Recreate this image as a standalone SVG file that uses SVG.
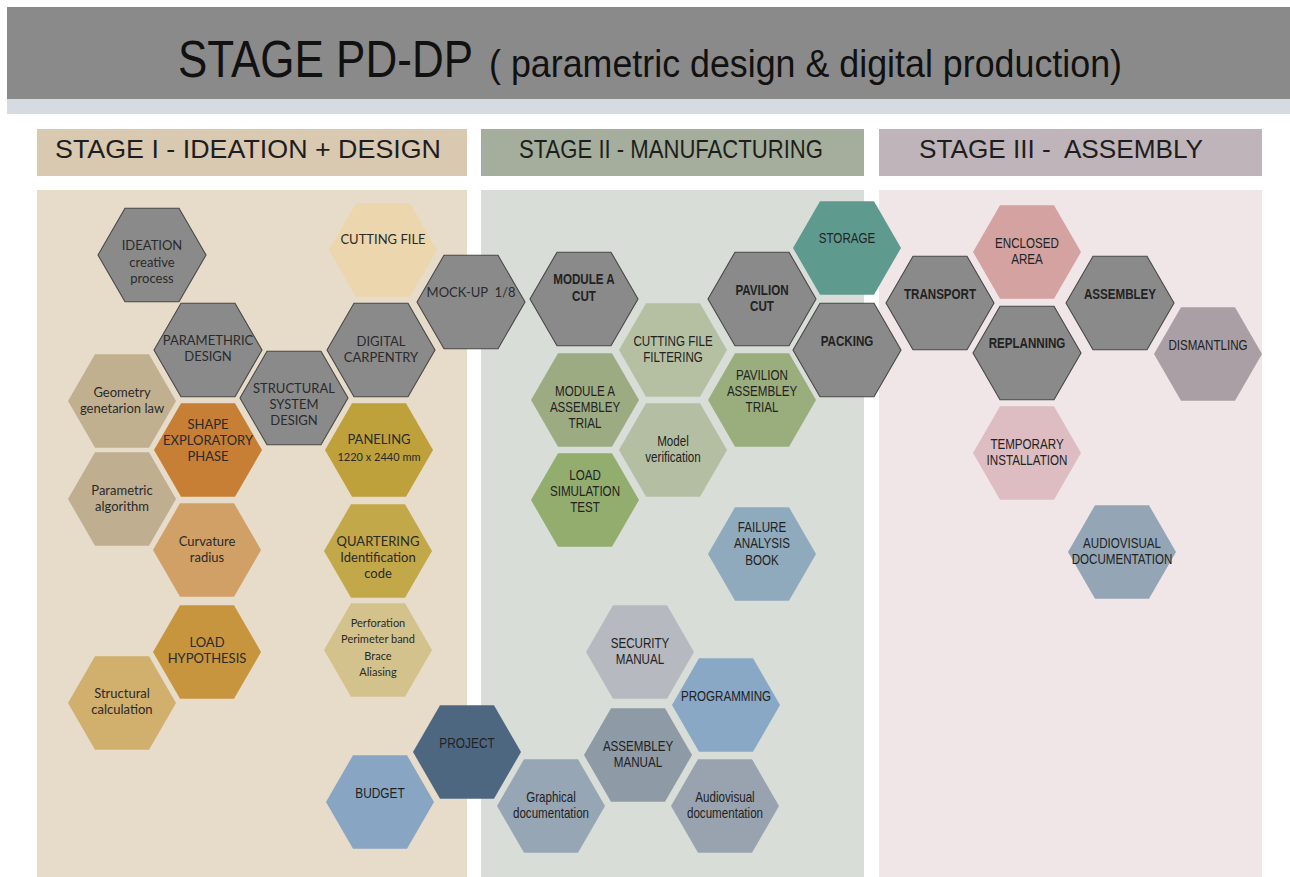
<svg xmlns="http://www.w3.org/2000/svg" xmlns:xlink="http://www.w3.org/1999/xlink" width="1290" height="877" viewBox="0 0 1290 877">
  <style>
    .round { font-family: Lato, "Open Sans", sans-serif; font-size: 13px; fill: #2a2a2a; text-anchor: middle; }
    .round.sm { font-size: 11px; }
    .narrow { font-family: "Liberation Sans", Arial, sans-serif; font-size: 14.5px; fill: #222; text-anchor: middle; }
    .narrow.b { font-weight: bold; }
    .head { font-family: "Liberation Sans", Arial, sans-serif; font-size: 25px; fill: #1e1e1e; white-space: pre; }
    .title { font-family: "Liberation Sans", Arial, sans-serif; fill: #111; }
    .pre { white-space: pre; }
    .grey { fill: #8a8a8a; stroke: #484848; stroke-width: 1.1; }
  </style>
  <defs>
    <!-- flat-topped hexagon, circumradius 54 -->
    <polygon id="hex" points="-54,0 -27,-46.8 27,-46.8 54,0 27,46.8 -27,46.8"/>
  </defs>

  <rect width="1290" height="877" fill="#ffffff"/>

  <!-- title band -->
  <rect x="7" y="7" width="1283" height="92" fill="#8a8a8a"/>
  <rect x="7" y="99" width="1283" height="15" fill="#d5dbe1"/>
  <text class="title" x="178" y="77" font-size="52" textLength="295" lengthAdjust="spacingAndGlyphs">STAGE PD-DP</text>
  <text class="title" x="489" y="77" font-size="39" textLength="633" lengthAdjust="spacingAndGlyphs">( parametric design &amp; digital production)</text>

  <!-- stage headers -->
  <rect x="37" y="129" width="430" height="47" fill="#d9c9b1"/>
  <rect x="481" y="129" width="383" height="47" fill="#a5ae9c"/>
  <rect x="879" y="129" width="383" height="47" fill="#beb4b9"/>
  <text class="head" x="55" y="158" textLength="386" lengthAdjust="spacingAndGlyphs">STAGE I - IDEATION + DESIGN</text>
  <text class="head" x="519" y="158" textLength="304" lengthAdjust="spacingAndGlyphs">STAGE II - MANUFACTURING</text>
  <text class="head" x="919" y="158" textLength="284" lengthAdjust="spacingAndGlyphs">STAGE III -  ASSEMBLY</text>

  <!-- stage panels -->
  <rect x="37" y="190" width="430" height="687" fill="#e6dcc9"/>
  <rect x="481" y="190" width="383" height="687" fill="#d8ddd7"/>
  <rect x="879" y="190" width="383" height="687" fill="#f0e6e7"/>

  <!-- connectors: none drawn, the hexagons tile against each other -->
  <g id="connectors"/>

  <!-- STAGE I -->
  <g id="ideation" transform="translate(152,255)">
    <use xlink:href="#hex" class="grey"/>
    <text class="round"><tspan x="0" y="-5">IDEATION</tspan><tspan x="0" y="12">creative</tspan><tspan x="0" y="28">process</tspan></text>
  </g>
  <g id="cutting-file" transform="translate(383,250)">
    <use xlink:href="#hex" fill="#ecd6ad"/>
    <text class="round" y="-6">CUTTING FILE</text>
  </g>
  <g id="parametric-design" transform="translate(208,350)">
    <use xlink:href="#hex" class="grey"/>
    <text class="round"><tspan x="0" y="-5">PARAMETHRIC</tspan><tspan x="0" y="11">DESIGN</tspan></text>
  </g>
  <g id="digital-carpentry" transform="translate(381,350)">
    <use xlink:href="#hex" class="grey"/>
    <text class="round"><tspan x="0" y="-4">DIGITAL</tspan><tspan x="0" y="12">CARPENTRY</tspan></text>
  </g>
  <g id="structural-system-design" transform="translate(294,398)">
    <use xlink:href="#hex" class="grey"/>
    <text class="round"><tspan x="0" y="-5">STRUCTURAL</tspan><tspan x="0" y="11">SYSTEM</tspan><tspan x="0" y="27">DESIGN</tspan></text>
  </g>
  <g id="geometry-law" transform="translate(122,401)">
    <use xlink:href="#hex" fill="#c1b08f"/>
    <text class="round"><tspan x="0" y="-4">Geometry</tspan><tspan x="0" y="12">genetarion law</tspan></text>
  </g>
  <g id="shape-exploratory" transform="translate(208,450)">
    <use xlink:href="#hex" fill="#c77f35"/>
    <text class="round"><tspan x="0" y="-21">SHAPE</tspan><tspan x="0" y="-5">EXPLORATORY</tspan><tspan x="0" y="11">PHASE</tspan></text>
  </g>
  <g id="paneling" transform="translate(379,450)">
    <use xlink:href="#hex" fill="#bea13b"/>
    <text class="round" y="-6">PANELING</text>
    <text class="round sm" y="11">1220 x 2440 mm</text>
  </g>
  <g id="parametric-algorithm" transform="translate(122,499)">
    <use xlink:href="#hex" fill="#bfae8f"/>
    <text class="round"><tspan x="0" y="-4">Parametric</tspan><tspan x="0" y="12">algorithm</tspan></text>
  </g>
  <g id="curvature-radius" transform="translate(207,550)">
    <use xlink:href="#hex" fill="#d1a067"/>
    <text class="round"><tspan x="0" y="-4">Curvature</tspan><tspan x="0" y="12">radius</tspan></text>
  </g>
  <g id="quartering" transform="translate(378,551)">
    <use xlink:href="#hex" fill="#c2a849"/>
    <text class="round"><tspan x="0" y="-5">QUARTERING</tspan><tspan x="0" y="11">Identification</tspan><tspan x="0" y="27">code</tspan></text>
  </g>
  <g id="perforation" transform="translate(378,650)">
    <use xlink:href="#hex" fill="#d4c28c"/>
    <text class="round sm"><tspan x="0" y="-23">Perforation</tspan><tspan x="0" y="-7">Perimeter band</tspan><tspan x="0" y="10">Brace</tspan><tspan x="0" y="26">Aliasing</tspan></text>
  </g>
  <g id="load-hypothesis" transform="translate(207,652)">
    <use xlink:href="#hex" fill="#c8953f"/>
    <text class="round"><tspan x="0" y="-5">LOAD</tspan><tspan x="0" y="11">HYPOTHESIS</tspan></text>
  </g>
  <g id="structural-calculation" transform="translate(122,703)">
    <use xlink:href="#hex" fill="#d1af6d"/>
    <text class="round"><tspan x="0" y="-5">Structural</tspan><tspan x="0" y="11">calculation</tspan></text>
  </g>
  <g id="budget" transform="translate(380,802)">
    <use xlink:href="#hex" fill="#88a6c4"/>
    <text class="narrow" transform="scale(0.82,1)" y="-4">BUDGET</text>
  </g>
  <g id="project" transform="translate(467,752)">
    <use xlink:href="#hex" fill="#4e6780"/>
    <text class="narrow" transform="scale(0.82,1)" y="-4">PROJECT</text>
  </g>

  <!-- STAGE II -->
  <g id="mock-up" transform="translate(471,302)">
    <use xlink:href="#hex" class="grey"/>
    <text class="round pre" y="-5">MOCK-UP  1/8</text>
  </g>
  <g id="module-a-cut" transform="translate(584,299)">
    <use xlink:href="#hex" class="grey"/>
    <text class="narrow b" transform="scale(0.8,1)"><tspan x="0" y="-15">MODULE A</tspan><tspan x="0" y="2">CUT</tspan></text>
  </g>
  <g id="cutting-file-filtering" transform="translate(673,350)">
    <use xlink:href="#hex" fill="#b5c0a3"/>
    <text class="narrow" transform="scale(0.8,1)"><tspan x="0" y="-4">CUTTING FILE</tspan><tspan x="0" y="12">FILTERING</tspan></text>
  </g>
  <g id="module-a-assembley-trial" transform="translate(585,400)">
    <use xlink:href="#hex" fill="#9dab83"/>
    <text class="narrow" transform="scale(0.8,1)"><tspan x="0" y="-4">MODULE A</tspan><tspan x="0" y="12">ASSEMBLEY</tspan><tspan x="0" y="28">TRIAL</tspan></text>
  </g>
  <g id="model-verification" transform="translate(673,450)">
    <use xlink:href="#hex" fill="#b3bea2"/>
    <text class="narrow" transform="scale(0.8,1)"><tspan x="0" y="-4">Model</tspan><tspan x="0" y="12">verification</tspan></text>
  </g>
  <g id="load-simulation-test" transform="translate(585,500)">
    <use xlink:href="#hex" fill="#93ad6f"/>
    <text class="narrow" transform="scale(0.8,1)"><tspan x="0" y="-20">LOAD</tspan><tspan x="0" y="-4">SIMULATION</tspan><tspan x="0" y="12">TEST</tspan></text>
  </g>
  <g id="pavilion-cut" transform="translate(762,299)">
    <use xlink:href="#hex" class="grey"/>
    <text class="narrow b" transform="scale(0.8,1)"><tspan x="0" y="-4">PAVILION</tspan><tspan x="0" y="12">CUT</tspan></text>
  </g>
  <g id="pavilion-assembley-trial" transform="translate(762,400)">
    <use xlink:href="#hex" fill="#9aad7d"/>
    <text class="narrow" transform="scale(0.8,1)"><tspan x="0" y="-20">PAVILION</tspan><tspan x="0" y="-4">ASSEMBLEY</tspan><tspan x="0" y="12">TRIAL</tspan></text>
  </g>
  <g id="storage" transform="translate(847,248)">
    <use xlink:href="#hex" fill="#5f9a8f"/>
    <text class="narrow" transform="scale(0.8,1)" y="-5">STORAGE</text>
  </g>
  <g id="packing" transform="translate(847,350)">
    <use xlink:href="#hex" class="grey"/>
    <text class="narrow b" transform="scale(0.8,1)" y="-4">PACKING</text>
  </g>
  <g id="failure-analysis-book" transform="translate(762,554)">
    <use xlink:href="#hex" fill="#8faabd"/>
    <text class="narrow" transform="scale(0.8,1)"><tspan x="0" y="-22">FAILURE</tspan><tspan x="0" y="-6">ANALYSIS</tspan><tspan x="0" y="11">BOOK</tspan></text>
  </g>
  <g id="security-manual" transform="translate(640,652)">
    <use xlink:href="#hex" fill="#b6b9bf"/>
    <text class="narrow" transform="scale(0.8,1)"><tspan x="0" y="-4">SECURITY</tspan><tspan x="0" y="12">MANUAL</tspan></text>
  </g>
  <g id="programming" transform="translate(726,705)">
    <use xlink:href="#hex" fill="#88a8c6"/>
    <text class="narrow" transform="scale(0.8,1)" y="-4">PROGRAMMING</text>
  </g>
  <g id="assembley-manual" transform="translate(638,755)">
    <use xlink:href="#hex" fill="#8e9aa5"/>
    <text class="narrow" transform="scale(0.8,1)"><tspan x="0" y="-4">ASSEMBLEY</tspan><tspan x="0" y="12">MANUAL</tspan></text>
  </g>
  <g id="graphical-documentation" transform="translate(551,806)">
    <use xlink:href="#hex" fill="#97a6b5"/>
    <text class="narrow" transform="scale(0.8,1)"><tspan x="0" y="-4">Graphical</tspan><tspan x="0" y="12">documentation</tspan></text>
  </g>
  <g id="audiovisual-documentation-ii" transform="translate(725,806)">
    <use xlink:href="#hex" fill="#98a3af"/>
    <text class="narrow" transform="scale(0.8,1)"><tspan x="0" y="-4">Audiovisual</tspan><tspan x="0" y="12">documentation</tspan></text>
  </g>

  <!-- STAGE III -->
  <g id="transport" transform="translate(940,303)">
    <use xlink:href="#hex" class="grey"/>
    <text class="narrow b" transform="scale(0.8,1)" y="-4">TRANSPORT</text>
  </g>
  <g id="enclosed-area" transform="translate(1027,252)">
    <use xlink:href="#hex" fill="#d3a2a1"/>
    <text class="narrow" transform="scale(0.8,1)"><tspan x="0" y="-4">ENCLOSED</tspan><tspan x="0" y="12">AREA</tspan></text>
  </g>
  <g id="replanning" transform="translate(1027,353)">
    <use xlink:href="#hex" class="grey"/>
    <text class="narrow b" transform="scale(0.8,1)" y="-5">REPLANNING</text>
  </g>
  <g id="assembley" transform="translate(1120,303)">
    <use xlink:href="#hex" class="grey"/>
    <text class="narrow b" transform="scale(0.8,1)" y="-4">ASSEMBLEY</text>
  </g>
  <g id="dismantling" transform="translate(1208,354)">
    <use xlink:href="#hex" fill="#a99fa5"/>
    <text class="narrow" transform="scale(0.8,1)" y="-4">DISMANTLING</text>
  </g>
  <g id="temporary-installation" transform="translate(1027,453)">
    <use xlink:href="#hex" fill="#ddbdc1"/>
    <text class="narrow" transform="scale(0.8,1)"><tspan x="0" y="-4">TEMPORARY</tspan><tspan x="0" y="12">INSTALLATION</tspan></text>
  </g>
  <g id="audiovisual-documentation" transform="translate(1122,552)">
    <use xlink:href="#hex" fill="#94a6b6"/>
    <text class="narrow" transform="scale(0.8,1)"><tspan x="0" y="-4">AUDIOVISUAL</tspan><tspan x="0" y="12">DOCUMENTATION</tspan></text>
  </g>
</svg>
